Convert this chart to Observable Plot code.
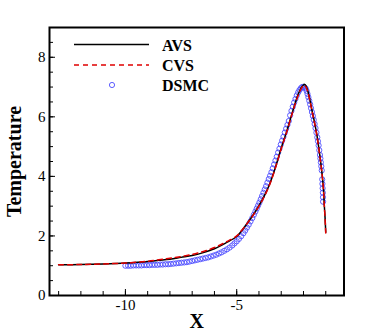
<!DOCTYPE html>
<html><head><meta charset="utf-8">
<script src="https://cdn.jsdelivr.net/npm/d3@7"></script>
<script src="https://cdn.jsdelivr.net/npm/@observablehq/plot@0.6"></script>
<style>body{margin:0;background:#fff}</style>
</head><body><div id="chart"></div>
<script>
const seriesNames = ["AVS", "CVS", "DSMC"];
const xTitle = "X";
const yTitle = "Temperature";

const avsX = [-13, -12, -11, -10, -9, -8.5, -8, -7.5, -7, -6.5, -6, -5.5, -5, -4.75, -4.5, -4.25, -4, -3.75, -3.5, -3.25, -3, -2.75, -2.5, -2.25, -2.1, -2, -1.95, -1.88, -1.8, -1.69, -1.6, -1.5, -1.4, -1.32, -1.24, -1.17, -1.1, -1.07, -1.03, -1];
const avsT = [1.03, 1.04, 1.06, 1.09, 1.14, 1.18, 1.22, 1.28, 1.34, 1.44, 1.57, 1.76, 1.98, 2.2, 2.45, 2.72, 3.02, 3.36, 3.78, 4.33, 4.95, 5.52, 6.15, 6.73, 6.98, 7.07, 7.09, 7.03, 6.85, 6.49, 6.15, 5.8, 5.4, 5.0, 4.55, 4.12, 3.55, 3.1, 2.6, 2.12];

const cvsX = [-13, -12, -11, -10, -9, -8.5, -8, -7.5, -7, -6.5, -6, -5.5, -5, -4.75, -4.5, -4.25, -4, -3.75, -3.5, -3.25, -3, -2.75, -2.5, -2.25, -2.1, -2, -1.95, -1.88, -1.8, -1.69, -1.6, -1.5, -1.4, -1.32, -1.24, -1.17, -1.1, -1.07, -1.03, -1];
const cvsT = [1.03, 1.04, 1.06, 1.09, 1.15, 1.2, 1.25, 1.31, 1.38, 1.48, 1.61, 1.79, 2.0, 2.21, 2.45, 2.71, 3.0, 3.34, 3.76, 4.31, 4.93, 5.5, 6.13, 6.7, 6.95, 7.04, 7.05, 6.99, 6.82, 6.46, 6.13, 5.78, 5.38, 4.98, 4.53, 4.1, 3.53, 3.08, 2.58, 2.1];

const dsmcX = [-10.00, -9.88, -9.76, -9.64, -9.52, -9.40, -9.28, -9.16, -9.04, -8.92, -8.80, -8.68, -8.56, -8.44, -8.32, -8.20, -8.08, -7.96, -7.84, -7.72, -7.60, -7.48, -7.36, -7.24, -7.12, -7.00, -6.88, -6.76, -6.64, -6.52, -6.40, -6.28, -6.16, -6.04, -5.92, -5.80, -5.68, -5.56, -5.44, -5.32, -5.20, -5.10, -5.00, -4.90, -4.80, -4.70,
  -4.62, -4.54, -4.46, -4.38, -4.30, -4.23, -4.16, -4.10, -4.04, -3.98, -3.92, -3.86, -3.80, -3.74, -3.68, -3.62, -3.56, -3.50, -3.44, -3.38, -3.32, -3.26, -3.20, -3.14, -3.08, -3.02, -2.96, -2.90, -2.84, -2.78, -2.72, -2.66, -2.60, -2.54, -2.48, -2.42, -2.36, -2.30, -2.24, -2.18, -2.12, -2.06, -2.00, -1.95,
  -1.90, -1.86, -1.82, -1.78, -1.74, -1.70, -1.66, -1.62, -1.58, -1.54, -1.50, -1.46, -1.42, -1.38, -1.35, -1.32, -1.29, -1.26, -1.24, -1.22, -1.20, -1.18, -1.16, -1.15, -1.14, -1.13, -1.125, -1.12];
const dsmcT = [1.00, 1.00, 1.00, 1.01, 1.01, 1.01, 1.01, 1.02, 1.02, 1.02, 1.03, 1.03, 1.03, 1.04, 1.04, 1.05, 1.05, 1.06, 1.07, 1.08, 1.09, 1.10, 1.11, 1.12, 1.14, 1.16, 1.18, 1.20, 1.22, 1.24, 1.26, 1.28, 1.31, 1.34, 1.37, 1.41, 1.45, 1.50, 1.55, 1.61, 1.68, 1.75, 1.82, 1.90, 1.99, 2.09,
  2.18, 2.28, 2.38, 2.49, 2.60, 2.71, 2.82, 2.92, 3.02, 3.12, 3.23, 3.34, 3.45, 3.56, 3.67, 3.79, 3.91, 4.02, 4.14, 4.27, 4.40, 4.53, 4.66, 4.80, 4.93, 5.07, 5.20, 5.33, 5.47, 5.60, 5.73, 5.86, 6.05, 6.20, 6.34, 6.48, 6.60, 6.72, 6.82, 6.90, 6.96, 7.00, 7.01, 6.98,
  6.95, 6.87, 6.77, 6.66, 6.54, 6.42, 6.29, 6.16, 6.03, 5.90, 5.76, 5.62, 5.47, 5.31, 5.18, 5.04, 4.88, 4.72, 4.60, 4.47, 4.34, 4.20, 3.90, 3.75, 3.60, 3.45, 3.30, 3.15];

const xMajorTicks = [-10, -5];
const xMinorTicks = [-13, -12, -11, -10, -9, -8, -7, -6, -5, -4, -3, -2, -1];
const yMajorTicks = [0, 2, 4, 6, 8];
const yMinorTicks = [0, 0.5, 1, 1.5, 2, 2.5, 3, 3.5, 4, 4.5, 5, 5.5, 6, 6.5, 7, 7.5, 8, 8.5];

const avs = avsX.map((x, i) => ({x, y: avsT[i]}));
const cvs = cvsX.map((x, i) => ({x, y: cvsT[i]}));
const dsmc = dsmcX.map((x, i) => ({x, y: dsmcT[i]}));

const serif = "'Liberation Serif', 'Times New Roman', serif";
const dotColor = "#4d4dff";

const plot = Plot.plot({
  width: 374, height: 332,
  marginLeft: 49, marginRight: 30.5, marginTop: 27, marginBottom: 37,
  style: {fontFamily: serif, fontSize: "15px", background: "#fff", color: "#000"},
  x: {domain: [-13.41, -0.18]},
  y: {domain: [0, 9]},
  marks: [
    Plot.dot(dsmc, {x: "x", y: "y", r: 2.6, stroke: dotColor, strokeWidth: 0.9, fill: "none"}),
    Plot.line(avs, {x: "x", y: "y", stroke: "#000", strokeWidth: 1.5, curve: "catmull-rom"}),
    Plot.line(cvs, {x: "x", y: "y", stroke: "#e00000", strokeWidth: 1.5, strokeDasharray: "5,4", curve: "catmull-rom"}),
    Plot.axisX(xMinorTicks, {tickSize: -4, tickFormat: () => "", label: null}),
    Plot.axisX(xMajorTicks, {tickSize: -6, tickPadding: 10, tickFormat: d => String(d), label: null, fontSize: 15}),
    Plot.axisY(yMinorTicks, {tickSize: -4, tickFormat: () => "", label: null}),
    Plot.axisY(yMajorTicks, {tickSize: -6, tickPadding: 10, tickFormat: d => String(d), label: null, fontSize: 15}),
    Plot.frame({stroke: "#000", strokeWidth: 2}),
    Plot.text([xTitle], {frameAnchor: "bottom", dy: 26.5, lineAnchor: "middle", textAnchor: "middle", fontWeight: "bold", fontSize: 20, text: d => d}),
    Plot.text([yTitle], {frameAnchor: "left", dx: -34.5, rotate: -90, lineAnchor: "middle", textAnchor: "middle", fontWeight: "bold", fontSize: 20, text: d => d})
  ]
});
document.getElementById("chart").appendChild(plot);

// legend inside the frame
const svg = d3.select(plot);
const lg = svg.append("g").attr("font-family", serif).attr("font-weight", "bold").attr("font-size", 16).attr("text-anchor", "start");
lg.append("line").attr("x1", 74).attr("x2", 149).attr("y1", 44.5).attr("y2", 44.5).attr("stroke", "#000").attr("stroke-width", 1.5);
lg.append("line").attr("x1", 74).attr("x2", 149).attr("y1", 65).attr("y2", 65).attr("stroke", "#e00000").attr("stroke-width", 1.5).attr("stroke-dasharray", "5,4");
lg.append("circle").attr("cx", 112).attr("cy", 85).attr("r", 2.6).attr("fill", "none").attr("stroke", dotColor).attr("stroke-width", 0.9);
[50.5, 71, 91].forEach((yy, i) => {
  lg.append("text").attr("x", 162).attr("y", yy).attr("text-anchor", "start").text(seriesNames[i]);
});
</script>
</body></html>
